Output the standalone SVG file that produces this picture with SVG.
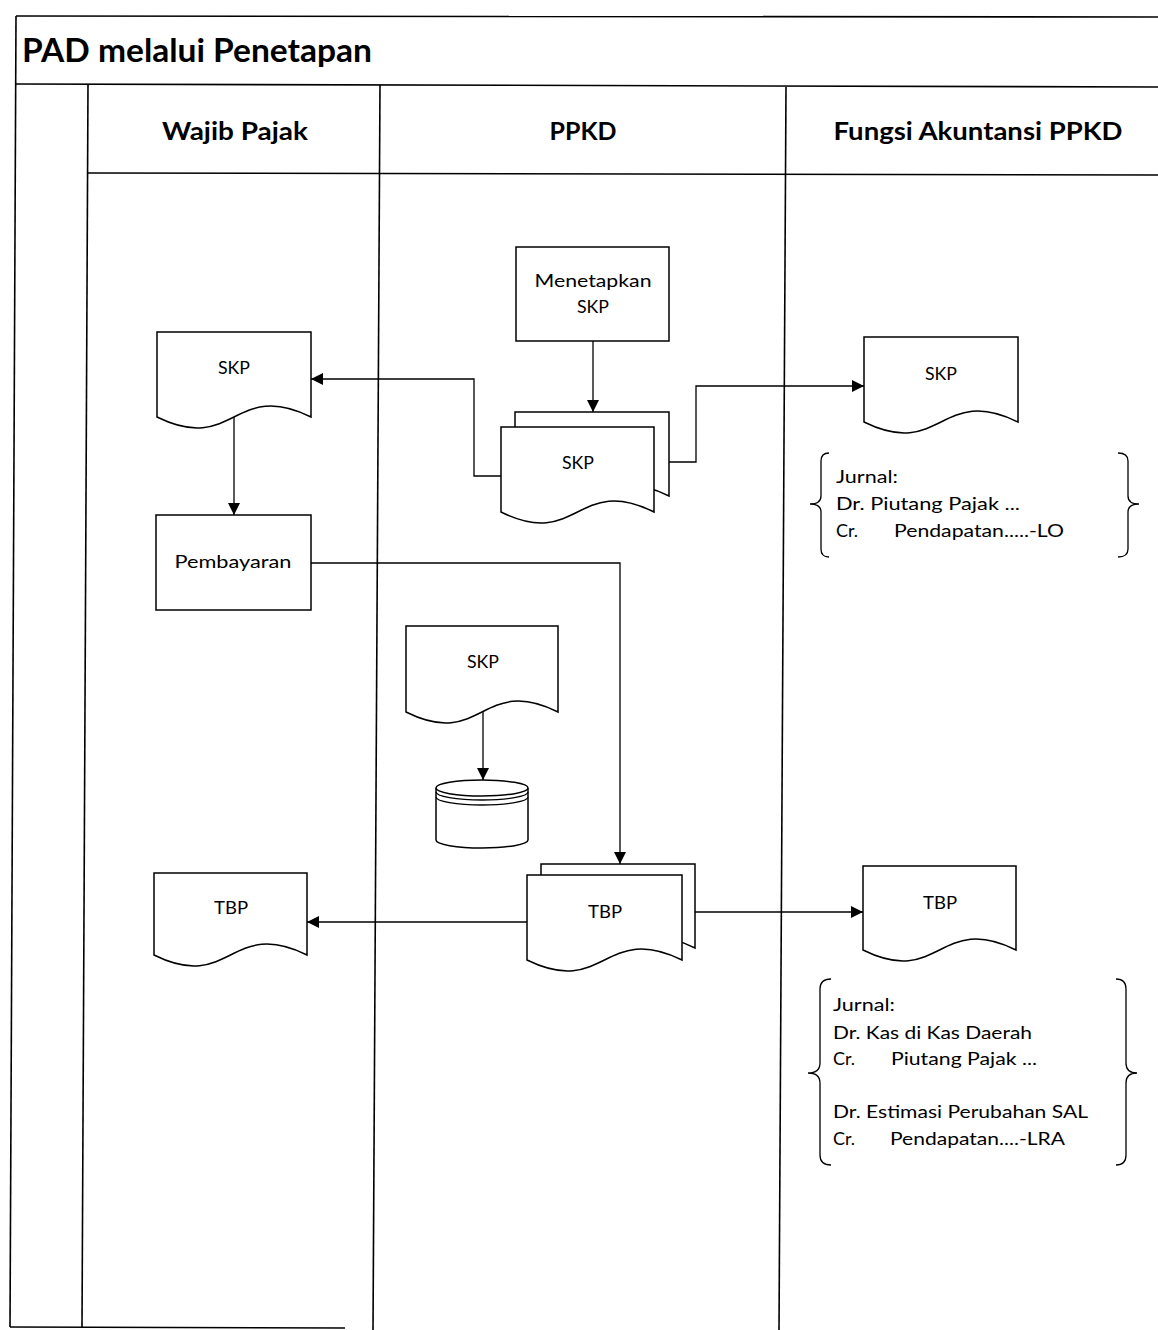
<svg xmlns="http://www.w3.org/2000/svg" width="1158" height="1330" viewBox="0 0 1158 1330">
<defs>
<marker id="arr" markerUnits="userSpaceOnUse" markerWidth="12" markerHeight="12" viewBox="0 0 12 12" refX="12" refY="6" orient="auto">
<path d="M0,0 L12,6 L0,12 z" fill="#000"/>
</marker>
<style>
.frame{stroke:#000;stroke-width:1.6;fill:none}
.shape{stroke:#000;stroke-width:1.5;fill:#fff}
.line{stroke:#000;stroke-width:1.3;fill:none}
.brace{stroke:#000;stroke-width:1.3;fill:none}
.title{font-family:Lato,"Open Sans","Liberation Sans",sans-serif;font-weight:bold;font-size:33px;fill:#000}
.head{font-family:Lato,"Open Sans","Liberation Sans",sans-serif;font-weight:bold;font-size:25px;fill:#000;text-anchor:middle}
.t{font-family:Lato,"Open Sans","Liberation Sans",sans-serif;font-size:18px;fill:#000;text-anchor:middle}
.tl{font-family:Lato,"Open Sans","Liberation Sans",sans-serif;font-size:18px;fill:#000}
</style>
</defs>
<rect width="1158" height="1330" fill="#fff"/>
<g id="frame">
<line class="frame" x1="16" y1="16" x2="1158" y2="17"/>
<line class="frame" x1="16" y1="84" x2="1158" y2="87"/>
<line class="frame" x1="88" y1="173" x2="1158" y2="175"/>
<line class="frame" x1="16" y1="16" x2="10" y2="1327"/>
<line class="frame" x1="88" y1="84" x2="82" y2="1327"/>
<line class="frame" x1="380" y1="85" x2="373" y2="1330"/>
<line class="frame" x1="786" y1="87" x2="779" y2="1330"/>
<line class="frame" x1="10" y1="1327" x2="345" y2="1328"/>
<text class="title" x="22" y="62" textLength="350" lengthAdjust="spacingAndGlyphs">PAD melalui Penetapan</text>
<text class="head" x="235" y="140" textLength="146" lengthAdjust="spacingAndGlyphs">Wajib Pajak</text>
<text class="head" x="583" y="140" textLength="67" lengthAdjust="spacingAndGlyphs">PPKD</text>
<text class="head" x="978" y="140" textLength="289" lengthAdjust="spacingAndGlyphs">Fungsi Akuntansi PPKD</text>
</g>
<g id="connectors">
<line class="line" x1="593" y1="341" x2="593" y2="412" marker-end="url(#arr)"/>
<polyline class="line" points="501,476 474,476 474,379 311,379" marker-end="url(#arr)"/>
<polyline class="line" points="669,462 696,462 696,386 864,386" marker-end="url(#arr)"/>
<line class="line" x1="234" y1="417" x2="234" y2="515" marker-end="url(#arr)"/>
<polyline class="line" points="311,563 620,563 620,864" marker-end="url(#arr)"/>
<line class="line" x1="483" y1="712" x2="483" y2="780" marker-end="url(#arr)"/>
<line class="line" x1="527" y1="922" x2="307" y2="922" marker-end="url(#arr)"/>
<line class="line" x1="695" y1="912" x2="863" y2="912" marker-end="url(#arr)"/>
</g>
<g id="menetapkan">
<rect class="shape" x="516" y="247" width="153" height="94"/>
<text class="t" x="593" y="287" textLength="117" lengthAdjust="spacingAndGlyphs">Menetapkan</text>
<text class="t" x="593" y="313" textLength="32" lengthAdjust="spacingAndGlyphs">SKP</text>
</g>
<g id="skp-ppkd">
<path class="shape" d="M515,412 H669 V496 C592,458 592,534 515,496 Z"/>
<path class="shape" d="M501,427 H654 V512 C577.5,474 577.5,550 501,512 Z"/>
<text class="t" x="578" y="469" textLength="32" lengthAdjust="spacingAndGlyphs">SKP</text>
</g>
<g id="skp-wp">
<path class="shape" d="M157,332 H311 V417 C234,379 234,455 157,417 Z"/>
<text class="t" x="234" y="374" textLength="32" lengthAdjust="spacingAndGlyphs">SKP</text>
</g>
<g id="skp-akuntansi">
<path class="shape" d="M864,337 H1018 V422 C941,384 941,460 864,422 Z"/>
<text class="t" x="941" y="380" textLength="32" lengthAdjust="spacingAndGlyphs">SKP</text>
</g>
<g id="jurnal-1">
<path class="brace" d="M829,453 Q821,453 821,461 V496 Q821,504 810,504 Q821,504 821,512 V549 Q821,557 829,557"/>
<path class="brace" d="M1118,453 Q1128,453 1128,461 V496 Q1128,504 1139,504 Q1128,504 1128,512 V549 Q1128,557 1118,557"/>
<text class="tl" x="836" y="483" textLength="62" lengthAdjust="spacingAndGlyphs">Jurnal:</text>
<text class="tl" x="836" y="510" textLength="184" lengthAdjust="spacingAndGlyphs">Dr. Piutang Pajak ...</text>
<text class="tl" y="537"><tspan x="836">Cr.</tspan><tspan x="894" textLength="170" lengthAdjust="spacingAndGlyphs">Pendapatan.....-LO</tspan></text>
</g>
<g id="pembayaran">
<rect class="shape" x="156" y="515" width="155" height="95"/>
<text class="t" x="233" y="568" textLength="117" lengthAdjust="spacingAndGlyphs">Pembayaran</text>
</g>
<g id="skp-arsip">
<path class="shape" d="M406,626 H558 V712 C482,674 482,750 406,712 Z"/>
<text class="t" x="483" y="668" textLength="32" lengthAdjust="spacingAndGlyphs">SKP</text>
</g>
<g id="arsip">
<path class="shape" d="M436,788 V840 A46,8 0 0 0 528,840 V788"/>
<ellipse class="shape" cx="482" cy="788" rx="46" ry="8"/>
<path class="line" d="M436,792 A46,8 0 0 0 528,792"/>
<path class="line" d="M436,797 A46,8 0 0 0 528,797"/>
</g>
<g id="tbp-ppkd">
<path class="shape" d="M541,864 H695 V948 C618,910 618,986 541,948 Z"/>
<path class="shape" d="M527,875 H682 V960 C604.5,922 604.5,998 527,960 Z"/>
<text class="t" x="605" y="918" textLength="34" lengthAdjust="spacingAndGlyphs">TBP</text>
</g>
<g id="tbp-wp">
<path class="shape" d="M154,873 H307 V955 C230.5,917 230.5,993 154,955 Z"/>
<text class="t" x="231" y="914" textLength="34" lengthAdjust="spacingAndGlyphs">TBP</text>
</g>
<g id="tbp-akuntansi">
<path class="shape" d="M863,866 H1016 V950 C939.5,912 939.5,988 863,950 Z"/>
<text class="t" x="940" y="909" textLength="34" lengthAdjust="spacingAndGlyphs">TBP</text>
</g>
<g id="jurnal-2">
<path class="brace" d="M831,979 Q820,979 820,989 V1063 Q820,1073 808,1073 Q820,1073 820,1083 V1155 Q820,1165 831,1165"/>
<path class="brace" d="M1116,979 Q1126,979 1126,989 V1063 Q1126,1073 1137,1073 Q1126,1073 1126,1083 V1155 Q1126,1165 1116,1165"/>
<text class="tl" x="833" y="1011" textLength="62" lengthAdjust="spacingAndGlyphs">Jurnal:</text>
<text class="tl" x="833" y="1039" textLength="199" lengthAdjust="spacingAndGlyphs">Dr. Kas di Kas Daerah</text>
<text class="tl" y="1065"><tspan x="833">Cr.</tspan><tspan x="891" textLength="146" lengthAdjust="spacingAndGlyphs">Piutang Pajak ...</tspan></text>
<text class="tl" x="833" y="1118" textLength="255" lengthAdjust="spacingAndGlyphs">Dr. Estimasi Perubahan SAL</text>
<text class="tl" y="1145"><tspan x="833">Cr.</tspan><tspan x="890" textLength="175" lengthAdjust="spacingAndGlyphs">Pendapatan....-LRA</tspan></text>
</g>
</svg>
